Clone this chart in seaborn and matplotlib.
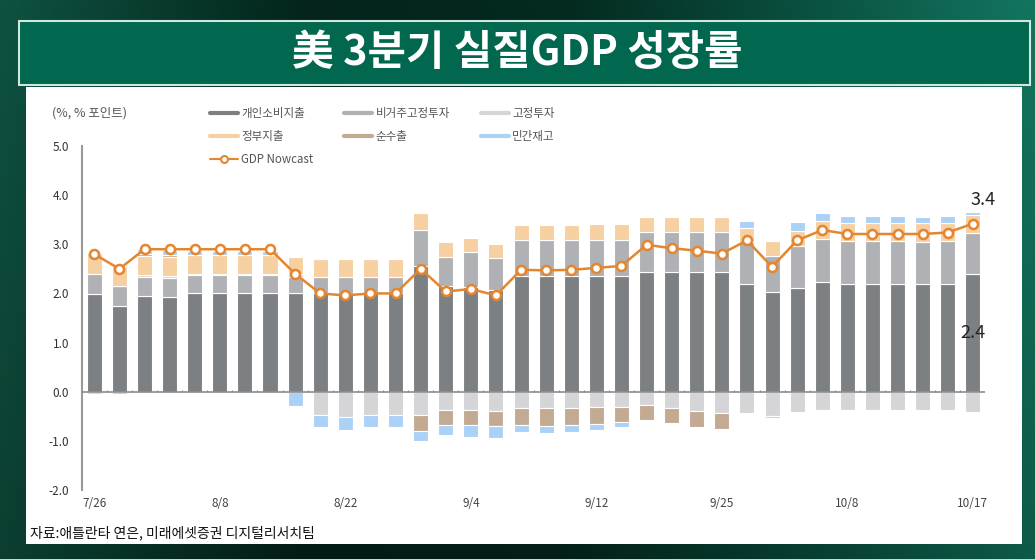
import numpy as np
import seaborn as sns
import matplotlib.pyplot as plt
from matplotlib.lines import Line2D
from matplotlib.patches import Rectangle

# x-axis labels, shown on every 5th nowcast update
date_labels = ['7/26', '8/8', '8/22', '9/4', '9/12', '9/25', '10/8', '10/17']
label_every = 5

# contributions to growth (%p), one value per nowcast update
pce = [1.98, 1.75, 1.94, 1.92, 2.00, 2.00, 2.00, 2.00, 2.00, 2.00, 1.98, 2.00,
       2.00, 2.55, 2.16, 2.14, 2.08, 2.35, 2.35, 2.35, 2.35, 2.35, 2.43, 2.43,
       2.43, 2.43, 2.20, 2.03, 2.11, 2.23, 2.20, 2.20, 2.20, 2.20, 2.20, 2.40]
nonres = [0.42, 0.40, 0.39, 0.39, 0.37, 0.37, 0.37, 0.37, 0.33, 0.33, 0.35, 0.33,
          0.33, 0.74, 0.58, 0.70, 0.64, 0.74, 0.74, 0.74, 0.74, 0.74, 0.83, 0.83,
          0.83, 0.83, 0.84, 0.73, 0.85, 0.88, 0.86, 0.86, 0.86, 0.85, 0.86, 0.83]
resid = [-0.05, 0.00, 0.04, 0.04, 0.03, 0.03, 0.03, 0.03, 0.06, -0.47, -0.52, -0.47,
         -0.47, -0.47, -0.37, -0.37, -0.40, -0.33, -0.33, -0.33, -0.31, -0.31, -0.27, -0.34,
         -0.40, -0.44, -0.44, -0.50, -0.42, -0.38, -0.38, -0.38, -0.38, -0.38, -0.38, -0.42]
gov = [0.43, 0.40, 0.40, 0.40, 0.38, 0.38, 0.38, 0.38, 0.36, 0.38, 0.38, 0.38,
       0.38, 0.35, 0.30, 0.28, 0.29, 0.31, 0.31, 0.31, 0.32, 0.32, 0.30, 0.30,
       0.30, 0.30, 0.29, 0.31, 0.32, 0.37, 0.38, 0.38, 0.38, 0.38, 0.38, 0.37]
netx = [0.00, 0.00, 0.04, 0.04, 0.00, 0.00, 0.00, 0.00, 0.00, 0.00, 0.00, 0.00,
        0.00, -0.32, -0.30, -0.31, -0.30, -0.35, -0.36, -0.35, -0.35, -0.30, -0.30, -0.30,
        -0.31, -0.31, 0.00, 0.00, 0.00, 0.00, 0.00, 0.00, 0.00, 0.00, 0.00, 0.00]
inv = [0.00, -0.05, 0.10, 0.10, 0.09, 0.09, 0.09, 0.09, -0.30, -0.25, -0.25, -0.24,
       -0.25, -0.22, -0.22, -0.24, -0.24, -0.13, -0.14, -0.13, -0.12, -0.10, 0.00, 0.00,
       0.00, 0.00, 0.15, -0.03, 0.17, 0.15, 0.13, 0.13, 0.13, 0.13, 0.13, 0.06]
gdp = [2.8, 2.5, 2.9, 2.9, 2.9, 2.9, 2.9, 2.9, 2.4, 2.0, 1.96, 2.0,
       2.0, 2.5, 2.04, 2.09, 1.96, 2.48, 2.47, 2.48, 2.52, 2.56, 2.99, 2.92,
       2.87, 2.81, 3.08, 2.54, 3.08, 3.29, 3.21, 3.21, 3.21, 3.21, 3.24, 3.42]

series = [('개인소비지출', pce, '#7d8083'),
          ('비거주고정투자', nonres, '#b0b1b4'),
          ('고정투자', resid, '#d5d5d7'),
          ('정부지출', gov, '#f7d0a2'),
          ('순수출', netx, '#c3aa93'),
          ('민간재고', inv, '#abd2f6')]
line_color = '#e5852e'

sns.set_theme(style='white')
plt.rcParams['font.family'] = ['Noto Sans CJK KR', 'DejaVu Sans']

fig = plt.figure(figsize=(10.35, 5.59), dpi=100)

# background: dark green gradient, title bar and white panel
bg = fig.add_axes([0, 0, 1, 1], zorder=-10)
gx = np.linspace(0, 1, 400)
gy = np.linspace(0, 1, 120)[:, None]
stops = [0, 0.3, 0.55, 0.8, 1.0]
cols = np.array([[14, 78, 62], [3, 34, 26], [4, 40, 31], [10, 80, 64], [18, 112, 90]]) / 255
rgb = np.stack([np.interp(gx, stops, cols[:, k]) for k in range(3)], axis=-1)[None, :, :]
rgb = rgb * (0.8 + 0.25 * gy[..., None])
bg.imshow(np.clip(rgb, 0, 1), extent=[0, 1, 0, 1], aspect='auto', origin='lower')
bg.add_patch(Rectangle((0.025, 0.026), 0.962, 0.818, color='white', lw=0))
bg.add_patch(Rectangle((0.018, 0.848), 0.977, 0.115, facecolor='#01684f',
                       edgecolor='#cfe8de', lw=1.5))
bg.set_xlim(0, 1)
bg.set_ylim(0, 1)
bg.axis('off')

fig.text(0.5, 0.905, '美 3분기 실질GDP 성장률', ha='center', va='center',
         color='white', fontsize=30, fontweight='bold')

ax = fig.add_axes([0.0790, 0.1234, 0.8731, 0.6154])
ax.set_facecolor('white')

n = len(gdp)
x = np.arange(n)
pos_base = np.zeros(n)
neg_base = np.zeros(n)
for name, vals, color in series:
    v = np.array(vals)
    bottom = np.where(v >= 0, pos_base, neg_base)
    ax.bar(x, v, bottom=bottom, width=0.6, color=color, edgecolor='white',
           linewidth=0.8, zorder=2)
    pos_base += np.clip(v, 0, None)
    neg_base += np.clip(v, None, 0)

sns.lineplot(x=x, y=gdp, ax=ax, color=line_color, lw=1.8, marker='o', markersize=6.5,
             markerfacecolor='white', markeredgecolor=line_color, markeredgewidth=1.8,
             zorder=4)

# zero line with small category ticks
ax.axhline(0, color='#8c8c8c', lw=1.2, zorder=3)
ax.vlines(x[:-1] + 0.5, 0, 0.04, color='#8c8c8c', lw=0.8, zorder=3)

ax.set_xlim(-0.5, n - 0.5)
ax.set_ylim(-2, 5)
yt = np.arange(-2, 5.1, 1.0)
ax.set_yticks(yt)
ax.set_yticklabels([f'{v:.1f}' for v in yt], fontsize=8.5, color='#333333')
ax.set_xticks(x[::label_every])
ax.set_xticklabels(date_labels, fontsize=8.5, color='#444444')
ax.tick_params(axis='x', length=0, pad=5)
ax.tick_params(axis='y', length=3, direction='in', color='#9a9a9a', pad=9)
for s in ['top', 'right', 'bottom']:
    ax.spines[s].set_visible(False)
ax.spines['left'].set_color('#9a9a9a')
ax.spines['left'].set_linewidth(1.5)
ax.set_xlabel('')
ax.set_ylabel('')

# value labels on the last update
ax.annotate(f'{gdp[-1]:.1f}', xy=(x[-1], gdp[-1]), xytext=(7, 17),
            textcoords='offset points', ha='center', va='center',
            fontsize=13, color='#222222')
ax.text(x[-1], pce[-1] / 2, f'{pce[-1]:.1f}', ha='center', va='center',
        fontsize=13, color='#222222', zorder=5)

# legend: columns fill top-down, so order to get the reference's rows
handles = {name: Line2D([0], [0], color=c, lw=3) for name, _, c in series}
handles['GDP Nowcast'] = Line2D([0], [0], color=line_color, lw=1.5, marker='o',
                                markersize=5, markerfacecolor='white',
                                markeredgecolor=line_color, markeredgewidth=1.5)
order = ['개인소비지출', '정부지출', 'GDP Nowcast', '비거주고정투자', '순수출',
         '고정투자', '민간재고']
leg = fig.legend([handles[k] for k in order], order, loc='upper left',
                 bbox_to_anchor=(0.203, 0.808), ncol=3, frameon=False, fontsize=8.3,
                 handlelength=2.4, handletextpad=0.3, columnspacing=2.7,
                 labelspacing=0.85, borderpad=0, borderaxespad=0)
for t in leg.get_texts():
    t.set_color('#555555')

fig.text(0.050, 0.798, '(%, % 포인트)', fontsize=9, color='#555555', va='center')
fig.text(0.029, 0.046, '자료:애틀란타 연은, 미래에셋증권 디지털리서치팀', fontsize=10,
         color='#111111', va='center')

fig.savefig('out.png', dpi=100)
